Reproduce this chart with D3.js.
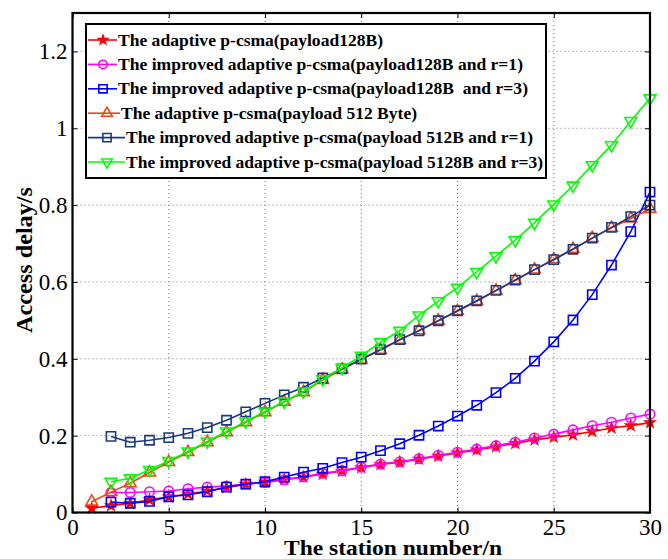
<!DOCTYPE html>
<html><head><meta charset="utf-8">
<script src="https://cdn.jsdelivr.net/npm/d3@7"></script>
<style>body{margin:0;background:#fff}</style>
</head><body>
<svg id="chart" width="668" height="559"></svg>
<script>
const xTicks = [0,5,10,15,20,25,30];
const yTicks = [0,0.2,0.4,0.6,0.8,1,1.2];
const xTickLabels = ["0","5","10","15","20","25","30"];
const yTickLabels = ["0","0.2","0.4","0.6","0.8","1","1.2"];
const stationsFrom1 = d3.range(1,31);
const stationsFrom2 = d3.range(2,31);

const adaptive128 = [0.011,0.018,0.024,0.033,0.041,0.048,0.056,0.065,0.073,0.079,0.086,0.092,0.100,0.108,0.117,0.125,0.131,0.139,0.147,0.155,0.163,0.171,0.180,0.189,0.196,0.202,0.211,0.220,0.226,0.234];
const improved128r1 = [0.052,0.052,0.054,0.056,0.062,0.066,0.069,0.074,0.078,0.085,0.093,0.102,0.109,0.118,0.126,0.132,0.140,0.149,0.157,0.165,0.174,0.183,0.194,0.204,0.215,0.226,0.235,0.246,0.256];
const improved128r3 = [0.027,0.024,0.029,0.041,0.046,0.054,0.066,0.074,0.080,0.092,0.105,0.115,0.130,0.144,0.161,0.179,0.201,0.225,0.251,0.279,0.312,0.349,0.394,0.444,0.501,0.567,0.644,0.731,0.834];
const adaptive512 = [0.028,0.053,0.076,0.104,0.131,0.157,0.183,0.209,0.235,0.261,0.288,0.313,0.345,0.372,0.398,0.423,0.449,0.474,0.499,0.524,0.550,0.577,0.604,0.632,0.659,0.686,0.714,0.741,0.765,0.790];
const improved512r1 = [0.198,0.183,0.188,0.195,0.206,0.221,0.240,0.262,0.284,0.306,0.326,0.350,0.374,0.399,0.424,0.450,0.473,0.499,0.525,0.551,0.578,0.605,0.632,0.658,0.685,0.714,0.742,0.770,0.800];
const improved512r3 = [0.080,0.089,0.111,0.134,0.159,0.185,0.211,0.237,0.263,0.289,0.315,0.347,0.376,0.408,0.443,0.473,0.513,0.550,0.585,0.626,0.667,0.709,0.754,0.802,0.851,0.904,0.956,1.019,1.078];

const seriesNames = [
 "The adaptive p-csma(payload128B)",
 "The improved adaptive p-csma(payload128B and r=1)",
 "The improved adaptive p-csma(payload128B  and r=3)",
 "The adaptive p-csma(payload 512 Byte)",
 "The improved adaptive p-csma(payload 512B and r=1)",
 "The improved adaptive p-csma(payload 5128B and r=3)"
];

const series = [
 {name:seriesNames[0], xs:stationsFrom1, ys:adaptive128, color:"#ff0000", sym:d3.symbolStar, size:28, fill:true, rot:0, tl:265},
 {name:seriesNames[1], xs:stationsFrom2, ys:improved128r1, color:"#ff00ff", sym:d3.symbolCircle, size:70, fill:false, rot:0, tl:405},
 {name:seriesNames[2], xs:stationsFrom2, ys:improved128r3, color:"#0000ff", sym:d3.symbolSquare, size:85, fill:false, rot:0, tl:410},
 {name:seriesNames[3], xs:stationsFrom1, ys:adaptive512, color:"#e8461c", sym:d3.symbolTriangle, size:60, fill:false, rot:0, tl:296},
 {name:seriesNames[4], xs:stationsFrom2, ys:improved512r1, color:"#1b3a7e", sym:d3.symbolSquare, size:85, fill:false, rot:0, tl:407},
 {name:seriesNames[5], xs:stationsFrom2, ys:improved512r3, color:"#00ff00", sym:d3.symbolTriangle, size:60, fill:false, rot:180, tl:417}
];

const svg = d3.select("#chart");
const L=72.5, R=650, T=13, B=512.5;
const x = d3.scaleLinear().domain([0,30]).range([L,R]);
const y = d3.scaleLinear().domain([0,1.3]).range([B,T]);
const serif = "'Liberation Serif','DejaVu Serif',serif";

// grid
const g = svg.append("g");
g.selectAll(".gx").data(xTicks.slice(1,-1)).enter().append("line")
 .attr("x1",d=>x(d)).attr("x2",d=>x(d)).attr("y1",T).attr("y2",B)
 .attr("stroke","#777").attr("stroke-width",1).attr("stroke-dasharray","1,3");
g.selectAll(".gy").data(yTicks.slice(1)).enter().append("line")
 .attr("y1",d=>y(d)).attr("y2",d=>y(d)).attr("x1",L).attr("x2",R)
 .attr("stroke","#777").attr("stroke-width",1).attr("stroke-dasharray","1,3");

// axes with inward ticks
const ax = svg.append("g").attr("transform",`translate(0,${B})`)
 .call(d3.axisBottom(x).tickValues(xTicks).tickFormat((d,i)=>xTickLabels[i]).tickSizeInner(-5).tickSizeOuter(0).tickPadding(6));
const axT = svg.append("g").attr("transform",`translate(0,${T})`)
 .call(d3.axisTop(x).tickValues(xTicks).tickFormat("").tickSizeInner(-5).tickSizeOuter(0));
const ay = svg.append("g").attr("transform",`translate(${L},0)`)
 .call(d3.axisLeft(y).tickValues(yTicks).tickFormat((d,i)=>yTickLabels[i]).tickSizeInner(-5).tickSizeOuter(0).tickPadding(5));
const ayR = svg.append("g").attr("transform",`translate(${R},0)`)
 .call(d3.axisRight(y).tickValues(yTicks).tickFormat("").tickSizeInner(-5).tickSizeOuter(0));
[ax,axT,ay,ayR].forEach(a=>{
 a.select(".domain").remove();
 a.selectAll("line").attr("stroke","#000").attr("stroke-width",1);
 a.selectAll("text").attr("font-family",serif).attr("font-size",23).attr("fill","#000");
});
ax.selectAll("text").attr("dy","0.71em");

// series
const line = d3.line().x(d=>x(d[0])).y(d=>y(d[1]));
series.forEach(s=>{
 const pts = s.xs.map((xv,i)=>[xv,s.ys[i]]);
 const sg = svg.append("g");
 sg.append("path").datum(pts).attr("d",line).attr("fill","none").attr("stroke",s.color).attr("stroke-width",1.6);
 sg.selectAll("path.m").data(pts).enter().append("path").attr("class","m")
  .attr("d",d3.symbol().type(s.sym).size(s.size))
  .attr("transform",d=>`translate(${x(d[0])},${y(d[1])}) rotate(${s.rot})`)
  .attr("fill",s.fill?s.color:"none").attr("stroke",s.color).attr("stroke-width",1.6);
});

// frame
svg.append("rect").attr("x",L).attr("y",T).attr("width",R-L).attr("height",B-T)
 .attr("fill","none").attr("stroke","#000").attr("stroke-width",2.2);

// legend
const lg = svg.append("g");
lg.append("rect").attr("x",86).attr("y",24).attr("width",460).attr("height",154)
 .attr("fill","#fff").attr("stroke","#000").attr("stroke-width",2);
series.forEach((s,i)=>{
 const cy = 40 + i*24.4;
 const lineEnd = i<3?117:(i===3?120:125);
 const mx = i<3?103:107;
 lg.append("line").attr("x1",88).attr("x2",lineEnd).attr("y1",cy).attr("y2",cy)
  .attr("stroke",s.color).attr("stroke-width",1.6);
 lg.append("path").attr("d",d3.symbol().type(s.sym).size(s.size*0.8))
  .attr("transform",`translate(${mx},${cy}) rotate(${s.rot})`)
  .attr("fill",s.fill?s.color:"none").attr("stroke",s.color).attr("stroke-width",1.6);
 lg.append("text").attr("x",lineEnd+1).attr("y",cy+5.5).text(s.name)
  .attr("font-family",serif).attr("font-weight","bold").attr("font-size",17)
  .attr("textLength",s.tl).attr("lengthAdjust","spacingAndGlyphs").attr("fill","#000")
  .style("white-space","pre");
});

// axis titles
svg.append("text").attr("x",393).attr("y",555).attr("text-anchor","middle")
 .attr("font-family",serif).attr("font-weight","bold").attr("font-size",22)
 .attr("textLength",218).attr("lengthAdjust","spacingAndGlyphs").text("The station number/n");
svg.append("text").attr("transform","translate(32,260) rotate(-90)").attr("text-anchor","middle")
 .attr("font-family",serif).attr("font-weight","bold").attr("font-size",24)
 .attr("textLength",146).attr("lengthAdjust","spacingAndGlyphs").text("Access delay/s");
</script>
</body></html>
